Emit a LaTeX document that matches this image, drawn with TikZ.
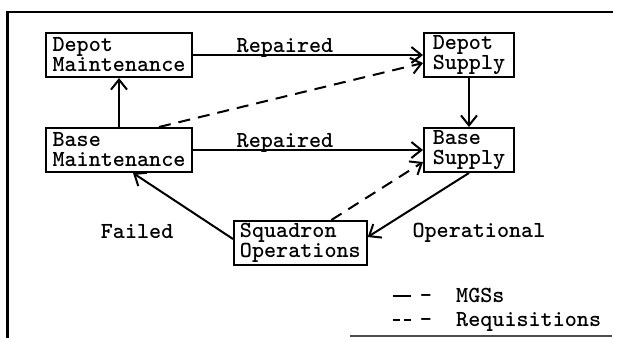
\documentclass[tikz,border=0pt]{standalone}
\usepackage{tikz}
\usetikzlibrary{arrows.meta,positioning,calc}

\begin{document}
\begin{tikzpicture}[x=0.5pt,y=-0.5pt,->,>={Straight Barb[length=5pt,width=8pt]},
  line width=1pt,font=\ttfamily\bfseries\fontsize{11.5}{10}\selectfont,
  main node/.style={draw,rectangle,align=left,inner xsep=3pt,inner ysep=1pt,
    minimum height=22pt},
  wide node/.style={main node,minimum width=73pt},
  small node/.style={main node,minimum width=45pt},
  key node/.style={anchor=base west,inner xsep=1pt,inner ysep=0.2pt,
    text height=6.5pt,text depth=1pt},
  req/.style={dash pattern=on 6pt off 4pt}]

  \useasboundingbox (0,0) rectangle (618,338);
  \draw[-,line width=1.2pt] (7.5,338) -- (7.5,12) -- (613,12);
  \draw[-,line width=0.6pt,black!70] (350,336) -- (612,336);

  \node[wide node] (DM) at (119,55) {Depot\\Maintenance};
  \node[small node,right=115pt of DM] (DS) {Depot\\Supply};
  \node[wide node,below=24.5pt of DM] (BM) {Base\\Maintenance};
  \node[small node,below=24.5pt of DS] (BS) {Base\\Supply};
  \node[main node,below right=23.5pt and 20pt of BM] (SO) {Squadron\\Operations};

  \draw (BM) to (DM);
  \draw (DM) to node[pos=0.4,anchor=base,yshift=1.5pt] {Repaired} (DS);
  \draw[req] ([xshift=20pt]BM.north) to ([yshift=-4pt]DS.west);
  \draw (DS) to (BS);
  \draw (BM) to node[pos=0.4,anchor=base,yshift=1.5pt] {Repaired} (BS);
  \draw[req] ([xshift=15.5pt]SO.north) to ([yshift=-6pt]BS.west);
  \draw (BS.south) to node[pos=0.9,anchor=west,xshift=13.5pt,yshift=-1pt] {Operational} ([yshift=3pt]SO.east);
  \draw ([yshift=2pt]SO.west) to node[midway,anchor=east,xshift=-1pt,yshift=-13pt] {Failed} ([xshift=7pt]BM.south);

  \node[key node] (mgs) at (417,302) {-~~MGSs};
  \node[key node] (reqs) at (417,326) {-~~Requisitions};
  \draw[-] ([yshift=3pt,xshift=-12pt]mgs.base west) -- ([yshift=3pt,xshift=-3pt]mgs.base west);
  \draw[-,dash pattern=on 3.5pt off 2pt] ([yshift=3pt,xshift=-12pt]reqs.base west) -- ([yshift=3pt,xshift=-3pt]reqs.base west);
\end{tikzpicture}
\end{document}
